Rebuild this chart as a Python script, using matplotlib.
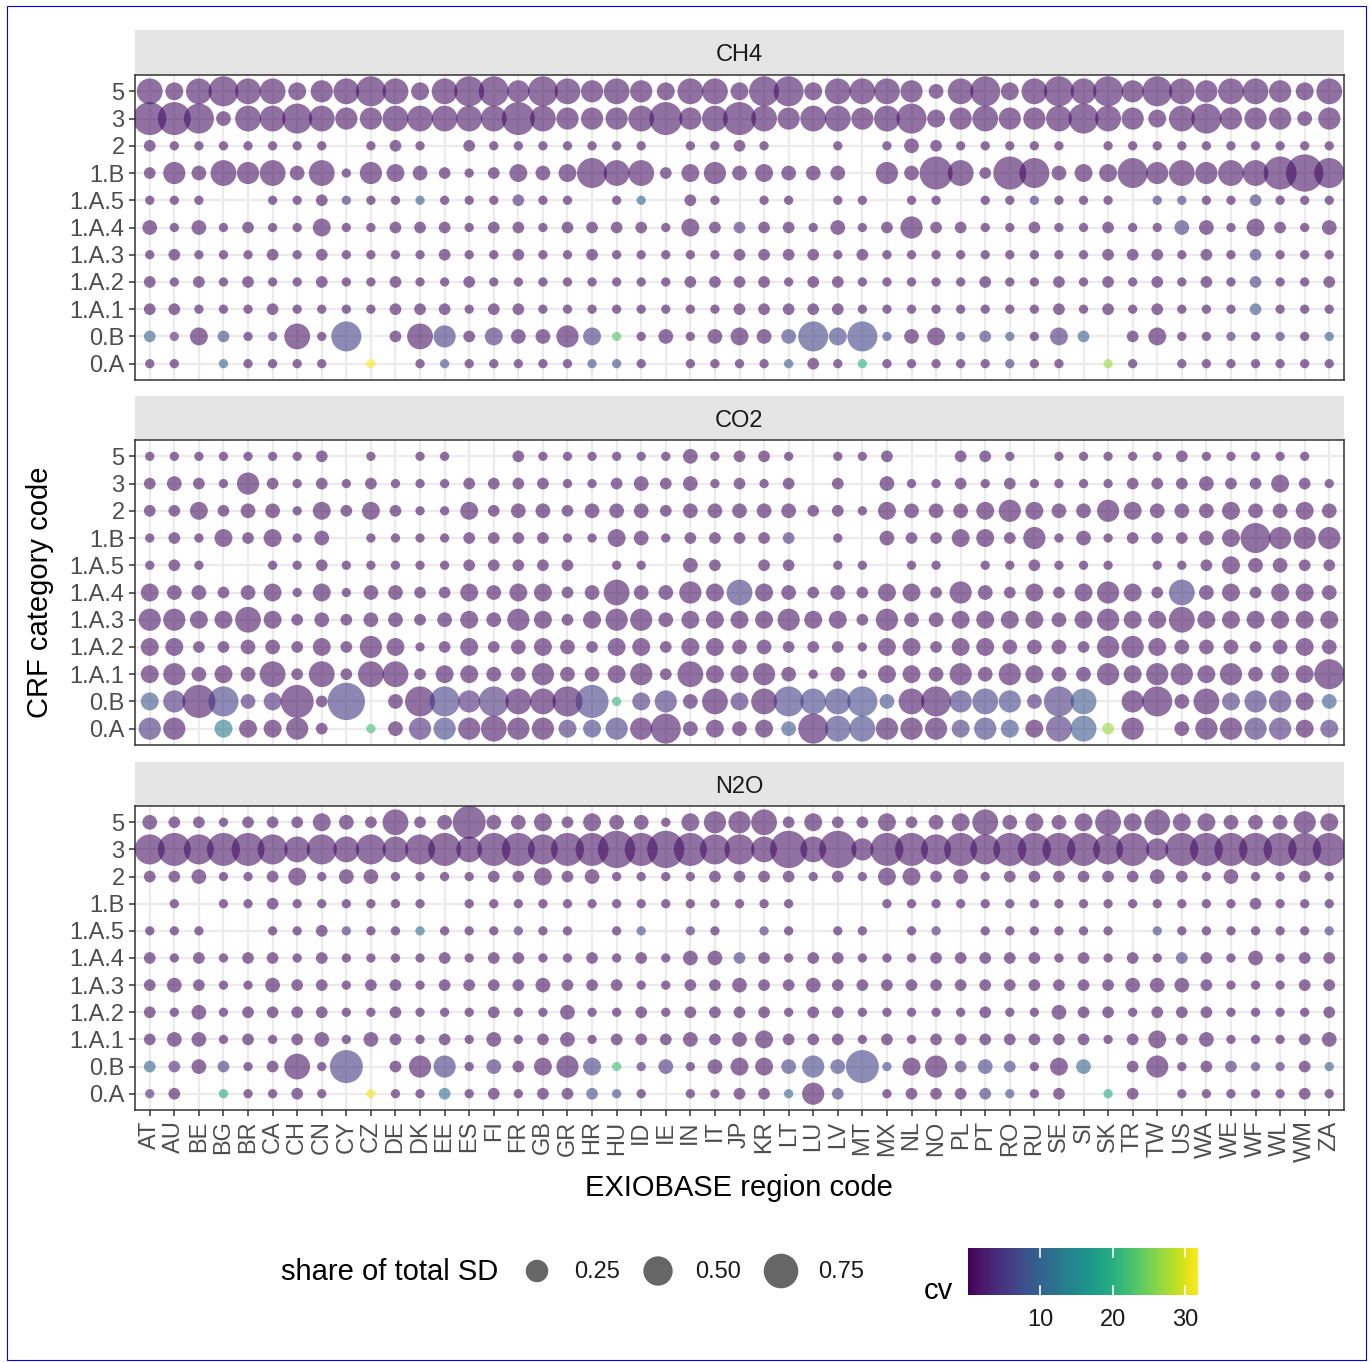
import numpy as np
import matplotlib
matplotlib.use("Agg")
import matplotlib.pyplot as plt
from matplotlib.colors import Normalize
from matplotlib.patches import Rectangle
import matplotlib as mpl

plt.rcParams['font.family'] = ['Liberation Sans', 'DejaVu Sans']

W, H, DPI = 1370, 1362, 100

regions = ("AT AU BE BG BR CA CH CN CY CZ DE DK EE ES FI FR GB GR HR HU ID IE IN IT "
           "JP KR LT LU LV MT MX NL NO PL PT RO RU SE SI SK TR TW US WA WE WF WL WM ZA").split()
categories = ["0.A", "0.B", "1.A.1", "1.A.2", "1.A.3", "1.A.4", "1.A.5", "1.B", "2", "3", "5"]
gases = ["CH4", "CO2", "N2O"]

# share of total SD per cell: digit k -> share_steps[k-1], "." = no value
share_steps = [0.01, 0.03, 0.07, 0.13, 0.24, 0.36, 0.53, 0.67, 0.90]

ch4_share = {
    "5":     "646766456764" "677576565466" "4774666536746" "767576566546",
    "3":     "887366765566" "666865556856" "8656656745655" "676546755535",
    "2":     "21111111.121" ".21111111.11" "21..1.1321111" "1.1111111111",
    "1.B":   "253656361543" "212434766245" "34333.5386287" "344756566897",
    "1.A.5": "111..1121111" "111211.11.21" ".11.11.11.111" "111.11112111",
    "1.A.4": "313121141122" "212212222142" "2221312522112" "112113314213",
    "1.A.3": "121112121111" "211211211111" "2222121111111" "112221212111",
    "1.A.2": "212121121121" "121111111122" "2212211111211" "212121212112",
    "1.A.1": "221112111122" "212211111111" "2222211111111" "212121112111",
    "0.B":   "214211617.26" "524335411313" "4337471341211" "42.241111111",
    "0.A":   "11.11111.1.1" "111111111.11" "1112111111111" "1.11.1111111",
}
co2_share = {
    "5":     "11111112.1.1" "1..211111131" "221.112..221." "11111211111.",
    "3":     "232152121211" "122221123231" "212.2.3112121" "111222322421",
    "2":     "224233142421" "142332333233" "3332214333454" "335433343343",
    "1.B":   "12142413.111" "122221143122" "222.1.3224425" "131222347555",
    "1.A.5": "121..1121111" "122222.11.32" ".22.11.11.112" "111.11243322",
    "1.A.4": "433234141332" "243442363354" "6432324425324" "245426342443",
    "1.A.3": "554464232332" "343542455344" "4454425334444" "345446444444",
    "1.A.2": "442233242541" "242343244244" "3322214424433" "325543332343",
    "1.A.1": "453436262662" "443353345264" "4531314435354" "335455453447",
    "0.B":   "458734829.37" "757667814536" "4676673675653" "76.573645543",
    "0.A":   "55.44452.135" "556554455734" "3437665554544" "6625.3555544",
}
n2o_share = {
    "5":     "322122243262" "383342433145" "5624224234634" "346464433354",
    "3":     "787887676767" "868878898987" "7696958878788" "887858888888",
    "2":     "223112413311" "112242311112" "2221214423122" "222232131121",
    "1.B":   ".1.112111111" ".11111111111" "111...1111111" "111111112111",
    "1.A.5": "111..1121111" "111111.11.11" ".11.11.11.111" "111.11111111",
    "1.A.4": "212122121111" "212211212133" "2212211122222" "121212213122",
    "1.A.3": "232113221221" "222232221122" "3223222222222" "222333211122",
    "1.A.2": "213122221121" "112113112122" "2212211111211" "322122211112",
    "1.A.1": "233121231321" "213123122232" "3422212122222" "221242311123",
    "0.B":   "223212618.25" "513245411313" "4435381452321" "43.251221121",
    "0.A":   "12.11121.111" "212122211.11" "22152.1222211" "2.12.1111121",
}

# coefficient of variation; cells not listed sit at cv_base
cv_base = 1.5
ch4_cv = {
    "1.A.5": {"CY": 4, "DK": 9, "FR": 3.5, "ID": 10, "RU": 4, "TW": 5, "US": 5.5, "WF": 5},
    "1.A.4": {"JP": 4, "US": 5},
    "1.A.3": {"WF": 5},
    "1.A.2": {"WF": 5},
    "1.A.1": {"WF": 8},
    "0.B": {"AT": 9.5, "AU": 4, "BG": 6.5, "CA": 3.5, "CY": 5.5, "EE": 5, "FI": 4, "HR": 5,
            "HU": 23, "LT": 5.5, "LU": 6, "LV": 6, "MT": 6, "MX": 6.5, "PL": 5, "PT": 5.5,
            "RO": 7, "SE": 4, "SI": 9, "WE": 4, "WL": 4, "ZA": 8.5},
    "0.A": {"BG": 10, "CZ": 31.8, "EE": 7, "HR": 7, "HU": 7, "LT": 8, "MT": 20, "RO": 5, "SK": 27},
}
co2_cv = {
    "1.B": {"LT": 4},
    "1.A.4": {"JP": 5, "US": 5},
    "0.B": {"AT": 8, "AU": 4, "BG": 5.5, "BR": 3.5, "CA": 3.5, "CY": 5, "EE": 5.5, "ES": 3.5,
            "FI": 4, "HR": 5.5, "HU": 21, "ID": 4, "IE": 4.5, "JP": 3.5, "LT": 5.5, "LU": 6,
            "LV": 5.5, "MT": 6.5, "MX": 7, "PL": 5, "PT": 5.5, "RO": 6, "RU": 3.5, "SE": 4.5,
            "SI": 8.5, "WE": 4.5, "WF": 4.5, "WL": 4, "ZA": 8.5},
    "0.A": {"AT": 4, "BG": 13, "CZ": 22, "DK": 3.5, "EE": 6, "GR": 4, "HR": 5.5, "HU": 5,
            "LT": 8, "LV": 5.5, "MT": 6, "PL": 5, "PT": 5.5, "RO": 7, "SE": 4, "SI": 8.5,
            "SK": 27, "WF": 4, "WL": 4, "ZA": 4},
}
n2o_cv = {
    "1.A.5": {"CY": 4, "DK": 11, "FR": 3.5, "ID": 7, "IN": 3.5, "KR": 4, "NO": 3.5, "TW": 5.5,
              "ZA": 5},
    "1.A.4": {"JP": 5, "US": 5},
    "0.B": {"AT": 9.5, "AU": 3.5, "BG": 5, "CY": 5, "EE": 5, "FI": 4, "HR": 5.5, "HU": 22,
            "ID": 3.5, "IE": 4, "LT": 5.5, "LU": 6, "LV": 6, "MT": 6, "MX": 6.5, "PL": 4,
            "PT": 5.5, "RO": 6, "SI": 9.5, "WE": 4, "WF": 4, "WL": 4, "ZA": 8.5},
    "0.A": {"AT": 3.5, "BG": 19, "CZ": 31, "EE": 11, "HR": 7, "HU": 7, "LT": 9.5, "LV": 5,
            "PT": 5, "RO": 6.5, "SK": 20},
}

shares = {"CH4": ch4_share, "CO2": co2_share, "N2O": n2o_share}
cvs = {"CH4": ch4_cv, "CO2": co2_cv, "N2O": n2o_cv}

legend_shares = [0.25, 0.50, 0.75]
cv_ticks = [10, 20, 30]
cv_lim = (0, 31.8)

cmap = plt.get_cmap("viridis")
norm = Normalize(*cv_lim)
ALPHA = 0.6


def marker_area(share):
    # ggplot-like area scale: diameter grows with sqrt(share)
    d_px = 6 + 33 * np.sqrt(np.asarray(share, dtype=float))
    return (d_px * 72 / DPI) ** 2


def box(left, top, right, bottom):
    return [left / W, 1 - bottom / H, (right - left) / W, (bottom - top) / H]


fig = plt.figure(figsize=(W / DPI, H / DPI), dpi=DPI)

panels = {"CH4": (30, 75, 380), "CO2": (396, 440, 745), "N2O": (762, 806, 1110)}
PL, PR = 135, 1344

for gas in gases:
    strip_top, top, bottom = panels[gas]

    sax = fig.add_axes(box(PL, strip_top, PR, top))
    sax.set_facecolor("#e5e5e5")
    sax.set_xticks([])
    sax.set_yticks([])
    for sp in sax.spines.values():
        sp.set_visible(False)
    sax.text(0.5, 0.44, gas, ha="center", va="center", fontsize=17, color="#1a1a1a",
             transform=sax.transAxes)

    ax = fig.add_axes(box(PL, top, PR, bottom))
    xs, ys, ss, cs = [], [], [], []
    for j, cat in enumerate(categories):
        row = shares[gas][cat]
        assert len(row) == len(regions)
        for i, code in enumerate(row):
            if code == ".":
                continue
            xs.append(i)
            ys.append(j)
            ss.append(share_steps[int(code) - 1])
            cs.append(cvs[gas].get(cat, {}).get(regions[i], cv_base))
    ax.scatter(xs, ys, s=marker_area(ss), c=cs, cmap=cmap, norm=norm,
               alpha=ALPHA, edgecolors="none", zorder=3)

    ax.set_xlim(-0.6, len(regions) - 0.4)
    ax.set_ylim(-0.6, len(categories) - 0.4)
    ax.set_xticks(range(len(regions)))
    ax.set_yticks(range(len(categories)))
    ax.set_yticklabels(categories)
    ax.grid(True, color="#ebebeb", linewidth=1.6, zorder=0)
    ax.set_axisbelow(True)
    for sp in ax.spines.values():
        sp.set_color("#333333")
        sp.set_linewidth(1.1)
    ax.tick_params(axis="y", colors="#333333", labelcolor="#4d4d4d", labelsize=17,
                   length=4.5, width=1.1, pad=3)
    if gas == "N2O":
        ax.set_xticklabels(regions, rotation=90)
        ax.tick_params(axis="x", colors="#333333", labelcolor="#4d4d4d", labelsize=17,
                       length=4.5, width=1.1, pad=3)
    else:
        ax.tick_params(axis="x", length=0, labelbottom=False)

fig.text(40 / W, 1 - 592 / H, "CRF category code", rotation=90, ha="center", va="center",
         fontsize=21)
fig.text(739 / W, 1 - 1188 / H, "EXIOBASE region code", ha="center", va="center", fontsize=21)

# legend area drawn on a full-figure overlay in pixel coordinates
lax = fig.add_axes([0, 0, 1, 1])
lax.set_xlim(0, W)
lax.set_ylim(H, 0)
lax.axis("off")
lax.text(281, 1272, "share of total SD", ha="left", va="center", fontsize=21)
for xc, val in zip([537, 658, 781], legend_shares):
    lax.scatter([xc], [1271], s=marker_area(val), color="black", alpha=ALPHA,
                edgecolors="none")
    lax.text(xc + 37, 1272, f"{val:.2f}", ha="left", va="center", fontsize=17,
             color="#1a1a1a")
lax.text(938, 1291, "cv", ha="center", va="center", fontsize=21)
lax.add_patch(Rectangle((7, 6), 1359, 1354, fill=False, edgecolor="#0000ff", linewidth=0.8))

cax = fig.add_axes(box(968, 1248, 1198, 1295))
cb = mpl.colorbar.ColorbarBase(cax, cmap=cmap, norm=norm, orientation="horizontal")
cb.outline.set_visible(False)
cb.set_ticks(cv_ticks)
cax.tick_params(axis="x", length=0, labelsize=17, labelcolor="#1a1a1a", pad=10)
for t in cv_ticks:
    cax.plot([t, t], [0, 0.2], color="white", lw=1.2, transform=cax.get_xaxis_transform())
    cax.plot([t, t], [0.8, 1], color="white", lw=1.2, transform=cax.get_xaxis_transform())

fig.savefig("out.png", dpi=DPI)
